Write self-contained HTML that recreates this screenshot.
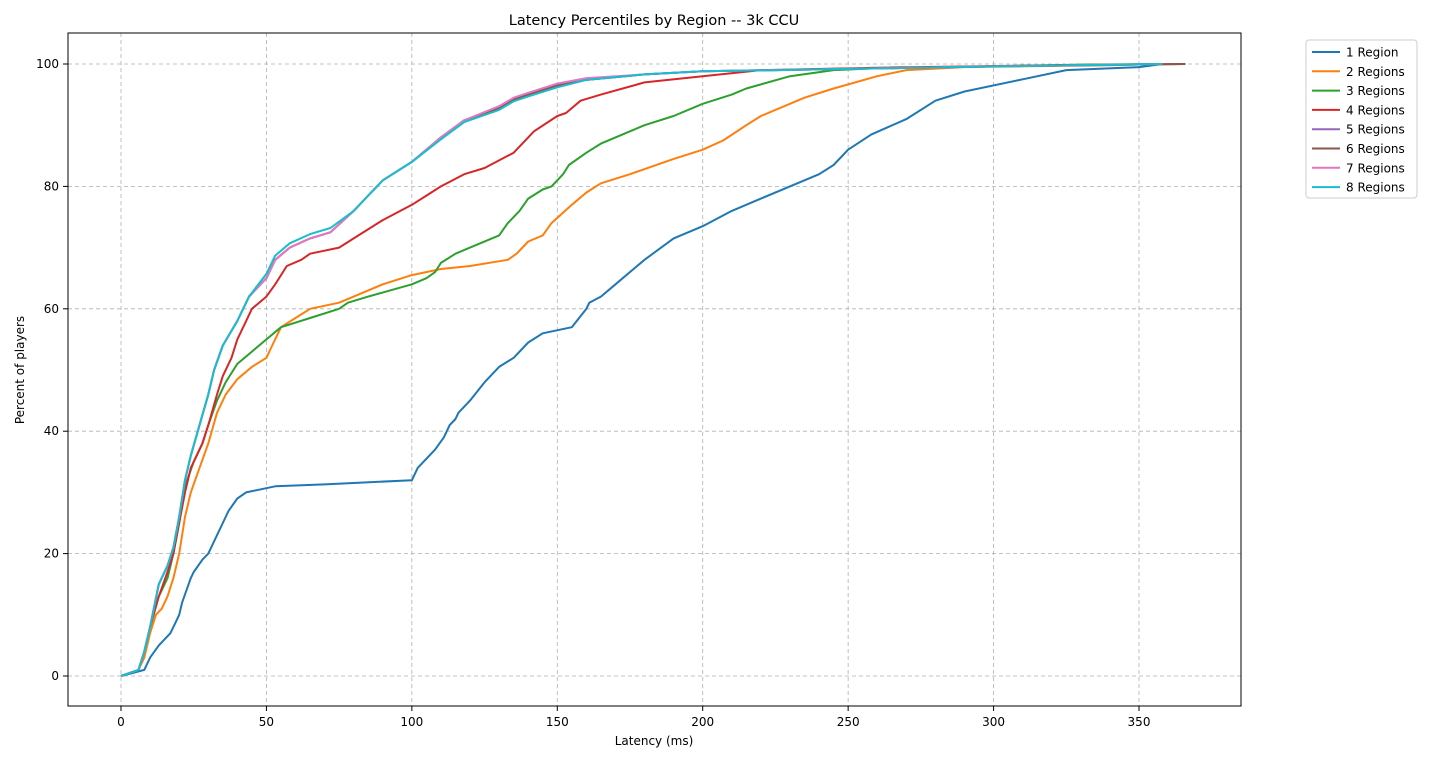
<!DOCTYPE html>
<html><head><meta charset="utf-8"><style>
html,body{margin:0;padding:0;background:#fff;}
svg{display:block;font-family:"DejaVu Sans","Liberation Sans",sans-serif;}
</style></head><body>
<svg id="s" width="1430" height="763" viewBox="0 0 1430 763" xmlns="http://www.w3.org/2000/svg">
<rect width="1430" height="763" fill="#fff"/>
<text x="654" y="25" font-size="14.5" text-anchor="middle">Latency Percentiles by Region -- 3k CCU</text>
<g id="grid"></g>
<g id="lines" fill="none" stroke-width="2" stroke-linejoin="round"></g>
<rect x="68" y="33" width="1173" height="673" fill="none" stroke="#000" stroke-width="1"/>
<g id="ticks" font-size="12"></g>
<text x="654" y="745" font-size="12" text-anchor="middle">Latency (ms)</text>
<text transform="translate(24,370) rotate(-90)" font-size="12" text-anchor="middle">Percent of players</text>
<g id="legend"></g>
</svg>
<script>
var X=function(v){return 121+v*1018/350;}, Y=function(v){return 676-v*6.12;};
var ns="http://www.w3.org/2000/svg";
function el(p,t,a,txt){var e=document.createElementNS(ns,t);for(var k in a)e.setAttribute(k,a[k]);if(txt!=null)e.textContent=txt;p.appendChild(e);return e;}
var g=document.getElementById('grid'),tk=document.getElementById('ticks');
for(var x=0;x<=350;x+=50){var px=X(x);el(g,'line',{x1:px,x2:px,y1:33,y2:706,stroke:'#b0b0b0','stroke-dasharray':'4,3','stroke-width':0.8});
el(tk,'line',{x1:px,x2:px,y1:706,y2:711,stroke:'#000'});el(tk,'text',{x:px,y:726,'text-anchor':'middle'},x);}
for(var y=0;y<=100;y+=20){var py=Y(y);el(g,'line',{x1:68,x2:1241,y1:py,y2:py,stroke:'#b0b0b0','stroke-dasharray':'4,3','stroke-width':0.8});
el(tk,'line',{x1:63,x2:68,y1:py,y2:py,stroke:'#000'});el(tk,'text',{x:59,y:py+4,'text-anchor':'end'},y);}
var grp=[[0,0],[6,1],[8,4],[10,8],[13,15],[16,18],[18,21],[20,26],[22,32],[24,36],[27,41],[30,46],[32,50],[35,54],[40,58],[44,62],[50,65],[53,68],[58,70],[65,71.5],[72,72.5],[80,76],[85,78.5],[90,81],[100,84],[110,88],[118,90.8],[130,92.8],[135,94.2],[140,95],[150,96.5],[160,97.4],[180,98.3],[200,98.8],[250,99.2],[300,99.6],[358,100]];
function shift(a,f){return a.map(function(p){return [p[0],f(p)];});}
var D=[
["#1f77b4",[[0,0],[8,1],[10,3],[13,5],[17,7],[19,9],[20,10],[21,12],[24,16],[25,17],[28,19],[30,20],[33,23],[35,25],[37,27],[40,29],[43,30],[53,31],[70,31.3],[100,32],[102,34],[108,37],[111,39],[113,41],[115,42],[116,43],[120,45],[125,48],[130,50.5],[135,52],[140,54.5],[145,56],[155,57],[160,60],[161,61],[165,62],[170,64],[180,68],[190,71.5],[200,73.5],[210,76],[220,78],[235,81],[240,82],[245,83.5],[250,86],[258,88.5],[270,91],[280,94],[290,95.5],[310,97.5],[325,99],[350,99.5],[358,100]]],
["#ff7f0e",[[0,0],[6,1],[8,3],[10,7],[12,10],[14,11],[16,13],[18,16],[20,20],[22,26],[24,30],[27,34],[30,38],[33,43],[36,46],[40,48.5],[45,50.5],[50,52],[52,54],[55,57],[60,58.5],[65,60],[75,61],[80,62],[90,64],[100,65.5],[110,66.5],[120,67],[133,68],[136,69],[140,71],[145,72],[148,74],[155,77],[160,79],[165,80.5],[175,82],[190,84.5],[200,86],[207,87.5],[215,90],[220,91.5],[235,94.5],[245,96],[260,98],[270,99],[290,99.5],[340,99.8],[358,100]]],
["#2ca02c",[[0,0],[6,1],[8,4],[10,8],[13,13],[16,16],[18,20],[20,25],[22,31],[25,35],[28,38],[30,41],[33,45],[36,48],[40,51],[45,53],[50,55],[55,57],[65,58.5],[75,60],[78,61],[85,62],[100,64],[105,65],[108,66],[110,67.5],[115,69],[120,70],[130,72],[133,74],[137,76],[140,78],[145,79.5],[148,80],[152,82],[154,83.5],[160,85.5],[165,87],[175,89],[180,90],[190,91.5],[200,93.5],[210,95],[215,96],[230,98],[245,99],[260,99.3],[300,99.6],[330,99.9],[358,100]]],
["#d62728",[[0,0],[6,1],[8,4],[10,8],[13,13],[16,17],[18,20],[20,25],[22,30],[24,34],[28,38],[30,41],[33,46],[35,49],[38,52],[40,55],[42,57],[45,60],[50,62],[53,64],[57,67],[62,68],[65,69],[75,70],[80,71.5],[90,74.5],[100,77],[105,78.5],[110,80],[118,82],[125,83],[135,85.5],[140,88],[142,89],[150,91.5],[153,92],[158,94],[165,95],[180,97],[200,98],[220,99],[260,99.4],[320,99.8],[366,100]]],
["#9467bd",grp],
["#8c564b",grp.map(function(p){return [p[0]===358?366:p[0],p[1]];})],
["#e377c2",shift(grp,function(p){return p[0]>=130&&p[0]<=160?p[1]+0.3:p[1];})],
["#17becf",shift(grp,function(p){return p[0]>=50&&p[0]<=75?p[1]+0.7:(p[0]>=110&&p[0]<=150?p[1]-0.3:p[1]);})]
];
var L=document.getElementById('lines');
D.forEach(function(d){el(L,'polyline',{stroke:d[0],points:d[1].map(function(p){return X(p[0]).toFixed(1)+','+Y(p[1]).toFixed(1);}).join(' ')});});
var lg=document.getElementById('legend');
el(lg,'rect',{x:1306,y:40,width:111,height:158,rx:3,fill:'#fff',stroke:'#ccc'});
var names=["1 Region","2 Regions","3 Regions","4 Regions","5 Regions","6 Regions","7 Regions","8 Regions"];
names.forEach(function(n,i){var y=52+i*19.3;el(lg,'line',{x1:1312,x2:1340,y1:y,y2:y,stroke:D[i][0],'stroke-width':2});
el(lg,'text',{x:1346,y:y+4.5,'font-size':12},n);});
</script>
</body></html>
